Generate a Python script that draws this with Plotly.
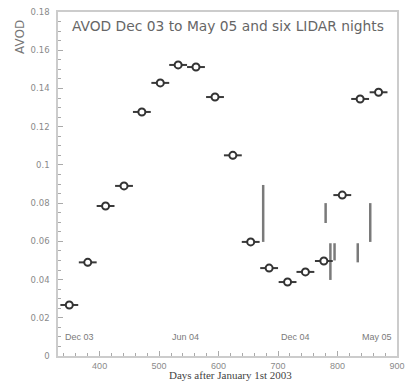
import plotly.graph_objects as go

# Monthly AVOD points
days = [349, 380, 410, 441, 471, 502, 532, 562, 594, 624, 654, 685, 716, 746, 777, 808, 838, 869]
avod = [0.0267, 0.049, 0.0785, 0.089, 0.1277, 0.1429, 0.1523, 0.1512, 0.1355, 0.105,
        0.0597, 0.046, 0.0387, 0.044, 0.0497, 0.0842, 0.1345, 0.138]
day_err = [15] * len(days)
avod_err = [0.002] * len(days)

# Six LIDAR nights: day, low, high
lidar_day = [675, 780, 788, 795, 834, 855]
lidar_low = [0.0597, 0.0696, 0.0398, 0.050, 0.049, 0.0597]
lidar_high = [0.0895, 0.080, 0.059, 0.059, 0.059, 0.080]

# Month labels
month_labels = ["Dec 03", "Jun 04", "Dec 04", "May 05"]
month_pos = [366, 545, 729, 867]

lx, ly = [], []
for d, lo, hi in zip(lidar_day, lidar_low, lidar_high):
    lx += [d, d, None]
    ly += [lo, hi, None]

fig = go.Figure()
fig.add_trace(go.Scatter(x=lx, y=ly, mode="lines",
                         line=dict(color="#7a7a7a", width=2.5),
                         showlegend=False, hoverinfo="skip"))
fig.add_trace(go.Scatter(
    x=days, y=avod, mode="markers",
    marker=dict(symbol="circle", size=7, color="white",
                line=dict(color="#333333", width=2)),
    error_x=dict(type="data", array=day_err, color="#3a3a3a", thickness=2, width=0),
    error_y=dict(type="data", array=avod_err, color="#3a3a3a", thickness=2, width=0),
    showlegend=False))

xtickfont = dict(family="Liberation Sans, Arial, sans-serif", size=9, color="#8a8a8a")
ytickfont = dict(family="DejaVu Sans, sans-serif", size=8.5, color="#8a8a8a")

fig.update_xaxes(range=[330, 900], dtick=100, tick0=0,
                 ticks="inside", ticklen=5, tickcolor="#aaaaaa",
                 minor=dict(dtick=20, ticks="inside", ticklen=3, tickcolor="#aaaaaa"),
                 showgrid=False, zeroline=False,
                 showline=True, linecolor="#cccccc", linewidth=1.5, mirror=True,
                 tickfont=xtickfont)
fig.update_yaxes(range=[0, 0.18], dtick=0.02, tick0=0,
                 ticks="inside", ticklen=5, tickcolor="#aaaaaa",
                 minor=dict(dtick=0.005, ticks="inside", ticklen=3, tickcolor="#aaaaaa"),
                 showgrid=False, zeroline=False,
                 showline=True, linecolor="#cccccc", linewidth=1.5, mirror=True,
                 tickfont=ytickfont, tickformat="~g", ticklabelstandoff=5)

W, H = 412, 392
ml, mr, mt, mb = 58, 7, 12, 36
pw, ph = W - ml - mr, H - mt - mb

def px(x):
    return (x - ml) / pw

def py(y):
    return (H - mb - y) / ph

ann = []
for lab, pos in zip(month_labels, month_pos):
    ann.append(dict(x=pos, y=0.010, xref="x", yref="y", text=lab, showarrow=False,
                    font=dict(family="Liberation Sans, Arial, sans-serif", size=9, color="#7a7a7a")))
ann.append(dict(x=px(70), y=py(26), xref="paper", yref="paper", xanchor="left", yanchor="middle",
                text="AVOD Dec 03 to May 05 and six LIDAR nights", showarrow=False,
                font=dict(family="DejaVu Sans, sans-serif", size=13.8, color="#666666")))
ann.append(dict(x=px(19), y=py(37), xref="paper", yref="paper", xanchor="center", yanchor="middle",
                text="AVOD", showarrow=False,
                textangle=-90, font=dict(family="DejaVu Sans, sans-serif", size=12, color="#777777")))
ann.append(dict(x=px(235), y=py(383), xref="paper", yref="paper",
                text="Days after January 1st 2003", showarrow=False,
                font=dict(family="Liberation Serif, Times New Roman, serif", size=11, color="#444444")))

fig.update_layout(width=W, height=H, margin=dict(l=ml, r=mr, t=mt, b=mb),
                  plot_bgcolor="white", paper_bgcolor="white", annotations=ann)
fig.write_html("out.html", config={"displayModeBar": False},
               post_script="document.body.style.margin='0';document.documentElement.style.overflow='hidden';")
